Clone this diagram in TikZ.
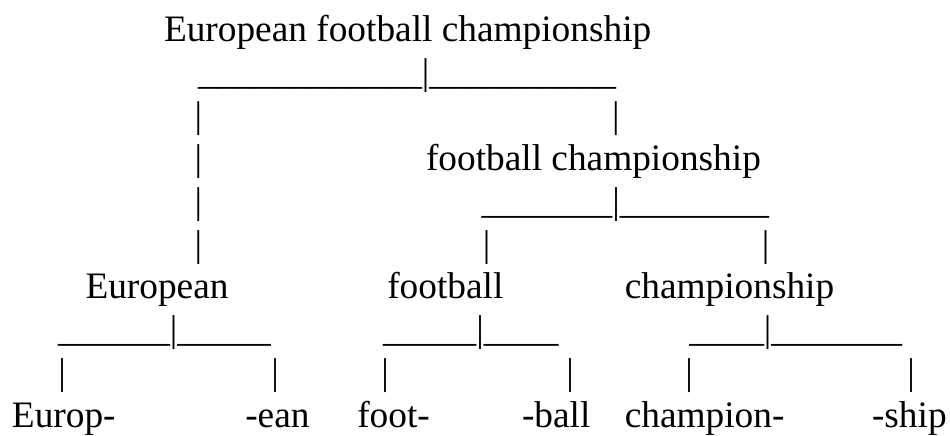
\documentclass[tikz,border=0pt]{standalone}
\usepackage{fontspec}
\setmainfont{Liberation Serif}
\begin{document}
\begin{tikzpicture}[x=1pt,y=-1pt,
  every node/.style={inner sep=0pt,outer sep=0pt,font=\fontsize{37.33}{43}\selectfont},
  word/.style={anchor=base west},
  bar/.style={anchor=base west},
  vbar/.style={anchor=base}]
\useasboundingbox (0,0) rectangle (950,436);
% row baselines
\def\rA{41.5}\def\rB{84.4}\def\rC{127.3}\def\rD{170.2}\def\rE{213.1}
\def\rF{256}\def\rG{298.9}\def\rH{341.8}\def\rI{384.7}\def\rJ{427.6}
% row 1
\node[word] (root) at (164,\rA) {European football championship};
% row 2
\node[bar] (rootbar) at (198,\rB) {\_\_\_\_\_\_\_\_\_\_\_\_|\_\_\_\_\_\_\_\_\_\_};
% row 3
\node[vbar] (l3) at (198.3,\rC) {|};
\node[vbar] (r3) at (615.8,\rC) {|};
% rows 4-6 left column
\node[vbar] (l4) at (198.3,\rD) {|};
\node[vbar] (l5) at (198.3,\rE) {|};
\node[vbar] (l6) at (198.3,\rF) {|};
% row 4
\node[word] (fc) at (426,\rD) {football championship};
% row 5
\node[bar] (fcbar) at (481.7,\rE) {\_\_\_\_\_\_\_|\_\_\_\_\_\_\_\_};
% row 6
\node[vbar] (fl6) at (486.7,\rF) {|};
\node[vbar] (cr6) at (765.7,\rF) {|};
% row 7
\node[word] (eu) at (85.5,\rG) {European};
\node[word] (fb) at (387.3,\rG) {football};
\node[word] (ch) at (624.8,\rG) {championship};
% row 8
\node[bar] (eubar) at (58,\rH) {\_\_\_\_\_\_|\_\_\_\_\_};
\node[bar] (fbbar) at (383,\rH) {\_\_\_\_\_|\_\_\_\_};
\node[bar] (chbar) at (689.3,\rH) {\_\_\_\_|\_\_\_\_\_\_\_};
% row 9
\node[vbar] (p1) at (62,\rI) {|};
\node[vbar] (p2) at (275,\rI) {|};
\node[vbar] (p3) at (385,\rI) {|};
\node[vbar] (p4) at (570,\rI) {|};
\node[vbar] (p5) at (689,\rI) {|};
\node[vbar] (p6) at (911,\rI) {|};
% row 10
\node[word] (w1) at (12,\rJ) {Europ-};
\node[word] (w2) at (245.3,\rJ) {-ean};
\node[word] (w3) at (357.3,\rJ) {foot-};
\node[word] (w4) at (522,\rJ) {-ball};
\node[word] (w5) at (624.8,\rJ) {champion-};
\node[word] (w6) at (872,\rJ) {-ship};
\end{tikzpicture}
\end{document}
